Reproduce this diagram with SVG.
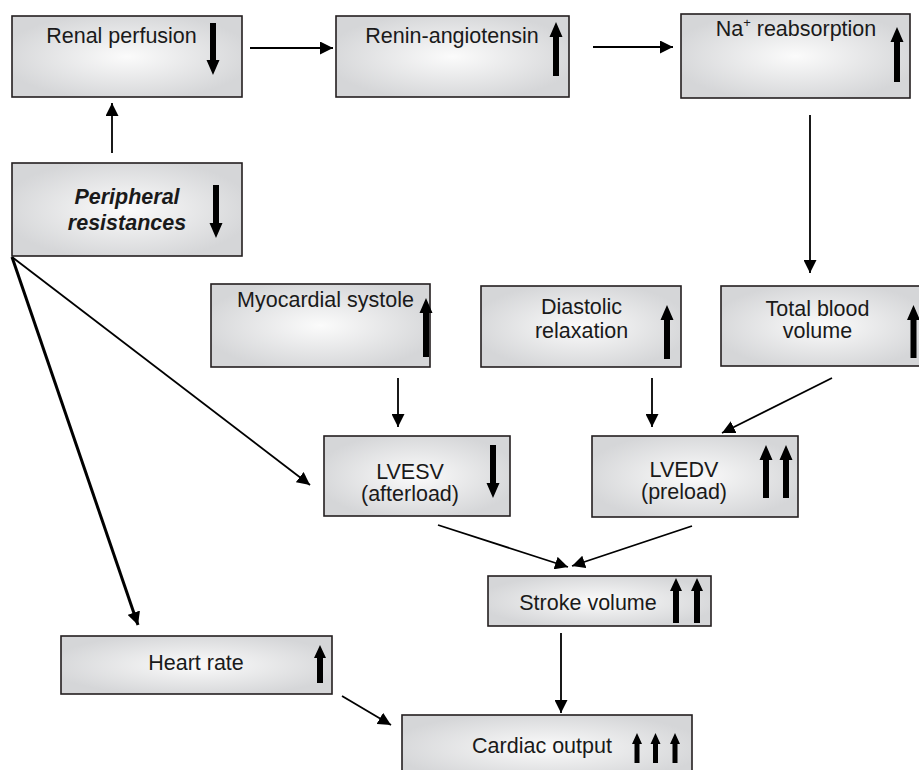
<svg xmlns="http://www.w3.org/2000/svg" width="919" height="770" viewBox="0 0 919 770">
<style>
.box{fill:url(#g);stroke:#231f20;stroke-width:1.6}
.t{font-family:"Liberation Sans",Arial,sans-serif;font-size:21.5px;fill:#1a1a1a;text-anchor:middle}
.bi{font-weight:bold;font-style:italic}
.ba{fill:#000}
.c{stroke:#000;stroke-width:1.8;fill:none;marker-end:url(#ah)}
.ct{stroke:#000;stroke-width:3;fill:none;marker-end:url(#ah2)}
</style>
<defs>
<radialGradient id="g" cx="0.5" cy="0.5" r="0.55">
<stop offset="0" stop-color="#fbfbfb"/>
<stop offset="1" stop-color="#d5d6d8"/>
</radialGradient>
<marker id="ah" markerUnits="userSpaceOnUse" markerWidth="14" markerHeight="13" refX="13" refY="6.5" orient="auto">
<path d="M0,0 L13,6.5 L0,13 Z" fill="#000"/>
</marker>
<marker id="ah2" markerUnits="userSpaceOnUse" markerWidth="14" markerHeight="13" refX="13" refY="6.5" orient="auto">
<path d="M0,0 L13,6.5 L0,13 Z" fill="#000"/>
</marker>
</defs>

<g id="connectors">
<line class="c" x1="250" y1="48" x2="333" y2="48"/>
<line class="c" x1="112" y1="153" x2="112" y2="103"/>
<line class="c" x1="593" y1="47" x2="673" y2="47"/>
<line class="c" x1="810" y1="115" x2="810" y2="273"/>
<line class="c" x1="12" y1="257" x2="310" y2="485"/>
<line class="ct" x1="12" y1="257" x2="138" y2="625"/>
<line class="c" x1="398" y1="378" x2="398" y2="427"/>
<line class="c" x1="652" y1="378" x2="652" y2="427"/>
<line class="c" x1="832" y1="378" x2="722" y2="433"/>
<line class="c" x1="438" y1="525" x2="568" y2="567"/>
<line class="c" x1="692" y1="526" x2="572" y2="566"/>
<line class="c" x1="561" y1="633" x2="561" y2="713"/>
<line class="c" x1="342" y1="696" x2="391" y2="725"/>
</g>

<g id="renal">
<rect class="box" x="12" y="16" width="230" height="81"/>
<text class="t" x="121.5" y="43">Renal perfusion</text>
<path class="ba" d="M213,75 L206.5,60 L210,60 L210,23 L216,23 L216,60 L219.5,60 Z"/>
</g>

<g id="renin">
<rect class="box" x="336" y="16" width="233" height="81"/>
<text class="t" x="452" y="43">Renin-angiotensin</text>
<path class="ba" d="M556,22 L562.5,37 L559,37 L559,76 L553,76 L553,37 L549.5,37 Z"/>
</g>

<g id="na">
<rect class="box" x="681" y="14" width="229" height="84"/>
<text class="t" x="796" y="36">Na<tspan font-size="13" dy="-9">+</tspan><tspan dy="9"> reabsorption</tspan></text>
<path class="ba" d="M897,27 L903.5,42 L900,42 L900,82 L894,82 L894,42 L890.5,42 Z"/>
</g>

<g id="peripheral">
<rect class="box" x="12" y="163" width="230" height="93"/>
<text class="t bi" x="127" y="204">Peripheral</text>
<text class="t bi" x="127" y="230">resistances</text>
<path class="ba" d="M216,238 L209.5,223 L213,223 L213,185 L219,185 L219,223 L222.5,223 Z"/>
</g>

<g id="myocardial">
<rect class="box" x="211" y="284" width="219" height="83"/>
<text class="t" x="325.5" y="307">Myocardial systole</text>
<path class="ba" d="M426,298 L432.5,313 L429,313 L429,357 L423,357 L423,313 L419.5,313 Z"/>
</g>

<g id="diastolic">
<rect class="box" x="481" y="286" width="200" height="81"/>
<text class="t" x="581.5" y="314">Diastolic</text>
<text class="t" x="581.5" y="338">relaxation</text>
<path class="ba" d="M667,305 L673.5,320 L670,320 L670,359 L664,359 L664,320 L660.5,320 Z"/>
</g>

<g id="totalblood">
<rect class="box" x="721" y="286" width="205" height="80"/>
<text class="t" x="817.5" y="316">Total blood</text>
<text class="t" x="817.5" y="338">volume</text>
<path class="ba" d="M913.5,305 L920,320 L916.5,320 L916.5,358 L910.5,358 L910.5,320 L907,320 Z"/>
</g>

<g id="lvesv">
<rect class="box" x="324" y="436" width="186" height="80"/>
<text class="t" x="410" y="479">LVESV</text>
<text class="t" x="410" y="501">(afterload)</text>
<path class="ba" d="M493,498 L486.5,483 L490,483 L490,445 L496,445 L496,483 L499.5,483 Z"/>
</g>

<g id="lvedv">
<rect class="box" x="592" y="436" width="206" height="81"/>
<text class="t" x="684" y="477">LVEDV</text>
<text class="t" x="684" y="499">(preload)</text>
<path class="ba" d="M766,445 L772.5,460 L769,460 L769,498 L763,498 L763,460 L759.5,460 Z"/>
<path class="ba" d="M786,445 L792.5,460 L789,460 L789,498 L783,498 L783,460 L779.5,460 Z"/>
</g>

<g id="stroke">
<rect class="box" x="488" y="576" width="223" height="50"/>
<text class="t" x="588" y="610">Stroke volume</text>
<path class="ba" d="M676,578 L682,591 L679,591 L679,623 L673,623 L673,591 L670,591 Z"/>
<path class="ba" d="M697,578 L703,591 L700,591 L700,623 L694,623 L694,591 L691,591 Z"/>
</g>

<g id="heartrate">
<rect class="box" x="61" y="636" width="271" height="58"/>
<text class="t" x="196" y="670">Heart rate</text>
<path class="ba" d="M320,645 L326,658 L323,658 L323,683 L317,683 L317,658 L314,658 Z"/>
</g>

<g id="cardiac">
<rect class="box" x="402" y="715" width="290" height="65"/>
<text class="t" x="542" y="753">Cardiac output</text>
<path class="ba" d="M637,733 L642,744 L639.5,744 L639.5,763 L634.5,763 L634.5,744 L632,744 Z"/>
<path class="ba" d="M655.5,733 L660.5,744 L658,744 L658,763 L653,763 L653,744 L650.5,744 Z"/>
<path class="ba" d="M675,733 L680,744 L677.5,744 L677.5,763 L672.5,763 L672.5,744 L670,744 Z"/>
</g>
</svg>
